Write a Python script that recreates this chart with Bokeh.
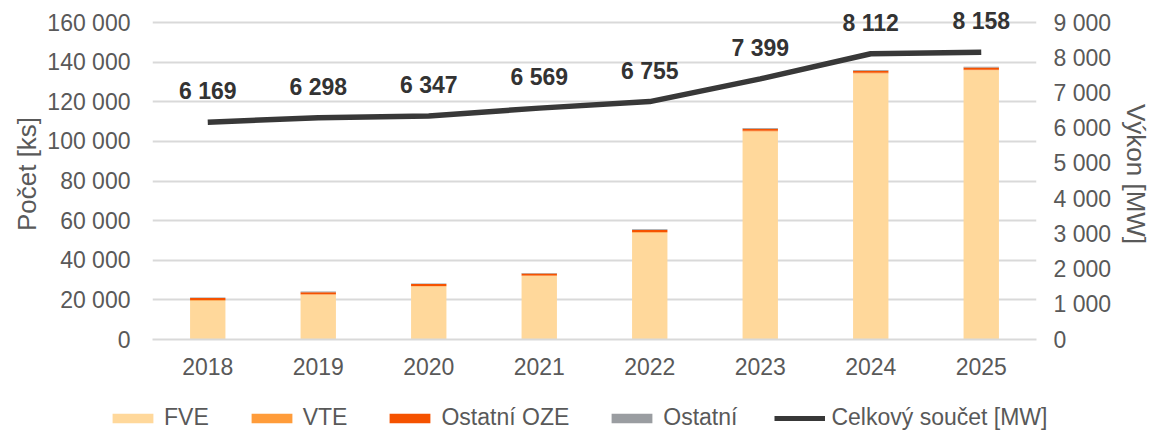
from bokeh.plotting import figure
from bokeh.layouts import column
from bokeh.models import (Range1d, LinearAxis, FixedTicker, Legend, LegendItem,
                          ColumnDataSource, FactorRange)
from bokeh.core.properties import value
from bokeh.embed import file_html
from bokeh.resources import INLINE

years = ["2018", "2019", "2020", "2021", "2022", "2023", "2024", "2025"]
fve = [19600, 22600, 26700, 32000, 53900, 105000, 134300, 135900]
vte = [300, 300, 300, 300, 300, 300, 300, 300]
ostatni_oze = [1000, 1000, 1000, 1000, 1100, 1100, 1100, 1100]
ostatni = [300, 300, 300, 300, 300, 300, 300, 400]
celkem_mw = [6169, 6298, 6347, 6569, 6755, 7399, 8112, 8158]

left_ticks = [0, 20000, 40000, 60000, 80000, 100000, 120000, 140000, 160000]
right_ticks = [0, 1000, 2000, 3000, 4000, 5000, 6000, 7000, 8000, 9000]
series_names = ["FVE", "VTE", "Ostatní OZE", "Ostatní"]
line_name = "Celkový součet [MW]"

def fmt(v):
    return f"{v:,}".replace(",", " ")

FONT = "Liberation Sans"
GRAY = "#595959"
colors = ["#FFD89B", "#FF9C3A", "#F55200", "#9A9DA1"]
LINE_COLOR = "#383838"
stack = ["fve", "vte", "ostatni_oze", "ostatni"]

src = ColumnDataSource(dict(years=years, fve=fve, vte=vte, ostatni_oze=ostatni_oze,
                            ostatni=ostatni, mw=celkem_mw,
                            lbl=[fmt(v) for v in celkem_mw]))

top_ext = 331 / 317
p = figure(x_range=FactorRange(*years), y_range=Range1d(0, 160000 * top_ext),
           width=1155, height=381, output_backend="svg", toolbar_location=None,
           min_border_left=152, min_border_right=119, min_border_top=8,
           min_border_bottom=42)
p.frame_align = False
p.outline_line_color = None
p.extra_y_ranges = {"mw": Range1d(0, 9000 * top_ext)}

p.vbar_stack(stack, x="years", width=0.32, color=colors, source=src,
             line_color=None)
p.line(x="years", y="mw", source=src, y_range_name="mw",
       line_color=LINE_COLOR, line_width=5.5)
p.text(x="years", y="mw", text="lbl", source=src, y_range_name="mw",
       text_font=value(FONT), text_font_style="bold", text_font_size="23px",
       text_color="#333333", text_align="center", text_baseline="middle",
       y_offset=-31)

ax = p.yaxis[0]
ax.ticker = FixedTicker(ticks=left_ticks)
ax.major_label_overrides = {t: fmt(t) for t in left_ticks}
ax.axis_label = "Počet [ks]"

ra = LinearAxis(y_range_name="mw", ticker=FixedTicker(ticks=right_ticks),
                major_label_overrides={t: fmt(t) for t in right_ticks},
                axis_label="Výkon [MW]")
p.add_layout(ra, "right")

for a in (ax, ra):
    a.axis_line_color = None
    a.major_tick_line_color = None
    a.minor_tick_line_color = None
    a.major_label_text_font = FONT
    a.major_label_text_font_size = "23px"
    a.major_label_text_color = GRAY
    a.axis_label_text_font = FONT
    a.axis_label_text_font_style = "normal"
    a.axis_label_text_color = GRAY
ax.axis_label_text_font_size = "26px"
ra.axis_label_text_font_size = "26px"
ra.axis_label_orientation = "vertical"
ax.major_label_standoff = 16
ax.axis_label_standoff = 2
ra.major_label_standoff = 11
ra.axis_label_standoff = 7

xa = p.xaxis[0]
xa.axis_line_color = "#D9D9D9"
xa.axis_line_width = 2
xa.major_tick_line_color = None
xa.minor_tick_line_color = None
xa.major_label_text_font = FONT
xa.major_label_text_font_size = "23px"
xa.major_label_text_color = GRAY
xa.major_label_standoff = 12

p.xgrid.grid_line_color = None
p.ygrid.ticker = FixedTicker(ticks=left_ticks)
p.ygrid.grid_line_color = "#D9D9D9"
p.ygrid.grid_line_width = 2

# legend strip below the chart: same series, a view range far above the data
# so that only the legend entries are visible
lg = figure(width=1155, height=50, output_backend="svg", toolbar_location=None,
            x_range=FactorRange(*years), y_range=Range1d(1e8, 2e8),
            x_axis_type=None, y_axis_type=None,
            min_border=0, min_border_left=0, min_border_right=0,
            min_border_top=0, min_border_bottom=0)
lg.frame_align = False
lg.grid.visible = False
lg.outline_line_color = None
rends = lg.vbar_stack(stack, x="years", width=0.32, color=colors, source=src,
                      line_color=None)
lrend = lg.line(x="years", y="mw", source=src, line_color=LINE_COLOR, line_width=5)
items = [LegendItem(label=n, renderers=[r]) for n, r in zip(series_names, rends)]
items.append(LegendItem(label=line_name, renderers=[lrend]))
leg = Legend(items=items, orientation="horizontal", location=(107, 0),
             glyph_width=51, glyph_height=12, label_standoff=6, spacing=37,
             padding=0, margin=0, border_line_color=None,
             background_fill_alpha=0,
             label_text_font=FONT, label_text_font_size="23px",
             label_text_color=GRAY)
lg.add_layout(leg, "center")

open("out.html", "w").write(file_html(column(p, lg, spacing=0), INLINE))
